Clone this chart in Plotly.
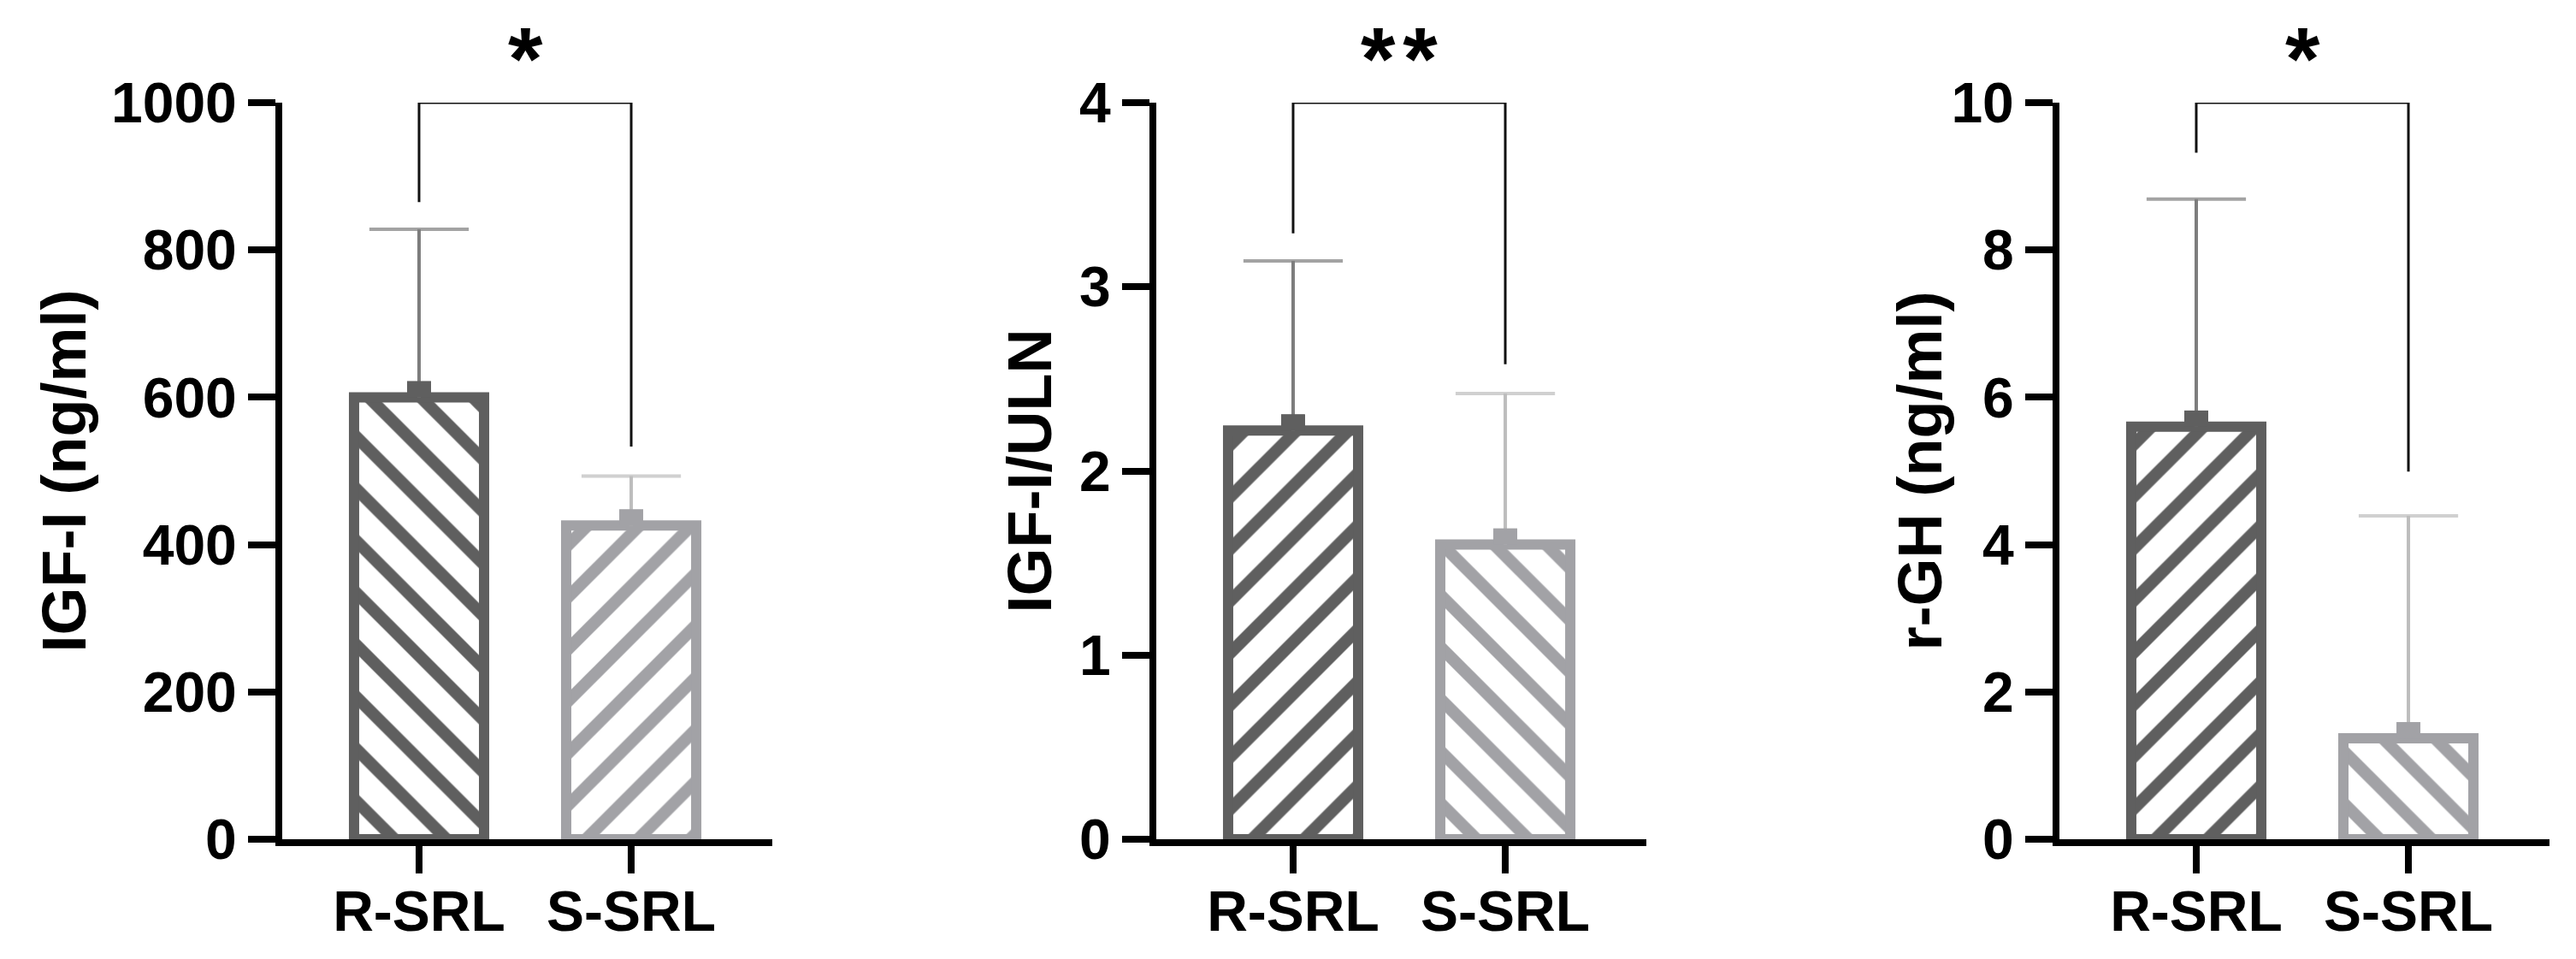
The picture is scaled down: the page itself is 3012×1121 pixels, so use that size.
import plotly.graph_objects as go

categories = ["R-SRL", "S-SRL"]

igf_mean = [600, 426]
igf_sd = [228, 67]
uln_mean = [2.22, 1.60]
uln_sd = [0.92, 0.82]
gh_mean = [5.60, 1.37]
gh_sd = [3.09, 3.02]

# significance brackets: left leg end, top, right leg end
igf_bracket = [865, 1000, 533]
uln_bracket = [3.29, 4, 2.58]
gh_bracket = [9.32, 10, 4.99]

y_titles = ["IGF-I (ng/ml)", "IGF-I/ULN", "r-GH (ng/ml)"]
y_max = [1000, 4, 10]
y_dtick = [200, 1, 2]
stars = ["*", "*\u200a*", "*"]
hatches = [["\\", "/"], ["/", "\\"], ["/", "\\"]]

means = [igf_mean, uln_mean, gh_mean]
sds = [igf_sd, uln_sd, gh_sd]
brackets = [igf_bracket, uln_bracket, gh_bracket]

W, H = 3012, 1121
TOP, BOTTOM = 112, 148
PLOT_H = H - TOP - BOTTOM
axis_x = [318, 1340, 2396]          # pixel x of each y-axis line
title_x = [66, 1195, 2236]

bar_colors = ["#5f5f5f", "#a2a2a6"]
err_colors = ["#7d7d7d", "#bdbdbd"]
FONT = "Liberation Sans, Arial, sans-serif"

fig = go.Figure()
xs = list(range(len(categories)))

for p in range(3):
    n = "" if p == 0 else str(p + 1)
    for i, cat in enumerate(categories):
        fig.add_trace(
            go.Bar(
                x=[xs[i]],
                y=[means[p][i]],
                width=0.613,
                xaxis="x" + n,
                yaxis="y" + n,
                marker=dict(
                    color=bar_colors[i],
                    line=dict(color=bar_colors[i], width=12),
                    pattern=dict(
                        shape=hatches[p][i],
                        fgcolor=bar_colors[i],
                        bgcolor="white",
                        size=43,
                        solidity=0.33,
                        fillmode="replace",
                    ),
                ),
                showlegend=False,
                name=cat,
                hoverinfo="skip",
            )
        )
        # upper SD whisker: stem from the mean, cap only at the top
        top = means[p][i] + sds[p][i]
        fig.add_trace(
            go.Scatter(
                x=[xs[i], xs[i]],
                y=[means[p][i], top],
                xaxis="x" + n,
                yaxis="y" + n,
                mode="lines+markers",
                line=dict(color=err_colors[i], width=4),
                marker=dict(
                    symbol="line-ew",
                    size=[0, 83],
                    line=dict(color=err_colors[i], width=4),
                ),
                cliponaxis=False,
                showlegend=False,
                hoverinfo="skip",
            )
        )
        # small mean block sitting on top of each bar
        fig.add_shape(
            type="rect",
            xref="x" + n,
            yref="y" + n,
            xsizemode="pixel",
            ysizemode="pixel",
            xanchor=xs[i],
            yanchor=means[p][i],
            x0=-14,
            x1=14,
            y0=0,
            y1=19,
            fillcolor=bar_colors[i],
            line=dict(width=0),
            layer="above",
        )

    b = brackets[p]
    fig.add_shape(
        type="path",
        xref="x" + n,
        yref="y" + n,
        path=f"M {xs[0]},{b[0]} L {xs[0]},{b[1]} L {xs[1]},{b[1]} L {xs[1]},{b[2]}",
        line=dict(color="#111111", width=3),
        layer="above",
    )

    fig.add_annotation(
        text=stars[p],
        xref="x" + n,
        x=0.5,
        yref="paper",
        y=(H - BOTTOM - 2) / PLOT_H,
        yanchor="top",
        xanchor="center",
        showarrow=False,
        borderpad=0,
        font=dict(size=104, family=FONT, color="black", weight="bold"),
    )
    fig.add_annotation(
        text=y_titles[p],
        xref="paper",
        x=title_x[p] / W,
        xanchor="center",
        yref="paper",
        y=0.5,
        yanchor="middle",
        textangle=-90,
        showarrow=False,
        font=dict(size=72, family=FONT, color="black", weight="bold"),
    )

    ax = dict(
        domain=[(axis_x[p] + 4) / W, (axis_x[p] + 577) / W],
        range=[-0.645, 1.665],
        tickvals=xs,
        ticktext=categories,
        showline=True,
        linewidth=8,
        linecolor="black",
        ticks="outside",
        ticklen=32,
        tickwidth=8,
        tickcolor="black",
        ticklabelstandoff=-12,
        tickfont=dict(size=66, family=FONT, color="black", weight="bold"),
        showgrid=False,
        zeroline=False,
        fixedrange=True,
        anchor="y" + n,
    )
    ay = dict(
        domain=[0, 1],
        range=[0, y_max[p]],
        dtick=y_dtick[p],
        tick0=0,
        showline=True,
        linewidth=8,
        linecolor="black",
        ticks="outside",
        ticklen=32,
        tickwidth=8,
        tickcolor="black",
        tickfont=dict(size=66, family=FONT, color="black", weight="bold"),
        showgrid=False,
        zeroline=False,
        fixedrange=True,
        anchor="x" + n,
    )
    fig.update_layout({"xaxis" + n: ax, "yaxis" + n: ay})

fig.update_layout(
    width=W,
    height=H,
    barmode="overlay",
    margin=dict(l=0, r=0, t=TOP, b=BOTTOM),
    paper_bgcolor="white",
    plot_bgcolor="white",
    font=dict(family=FONT, color="black"),
)

fig.write_html("out.html")
